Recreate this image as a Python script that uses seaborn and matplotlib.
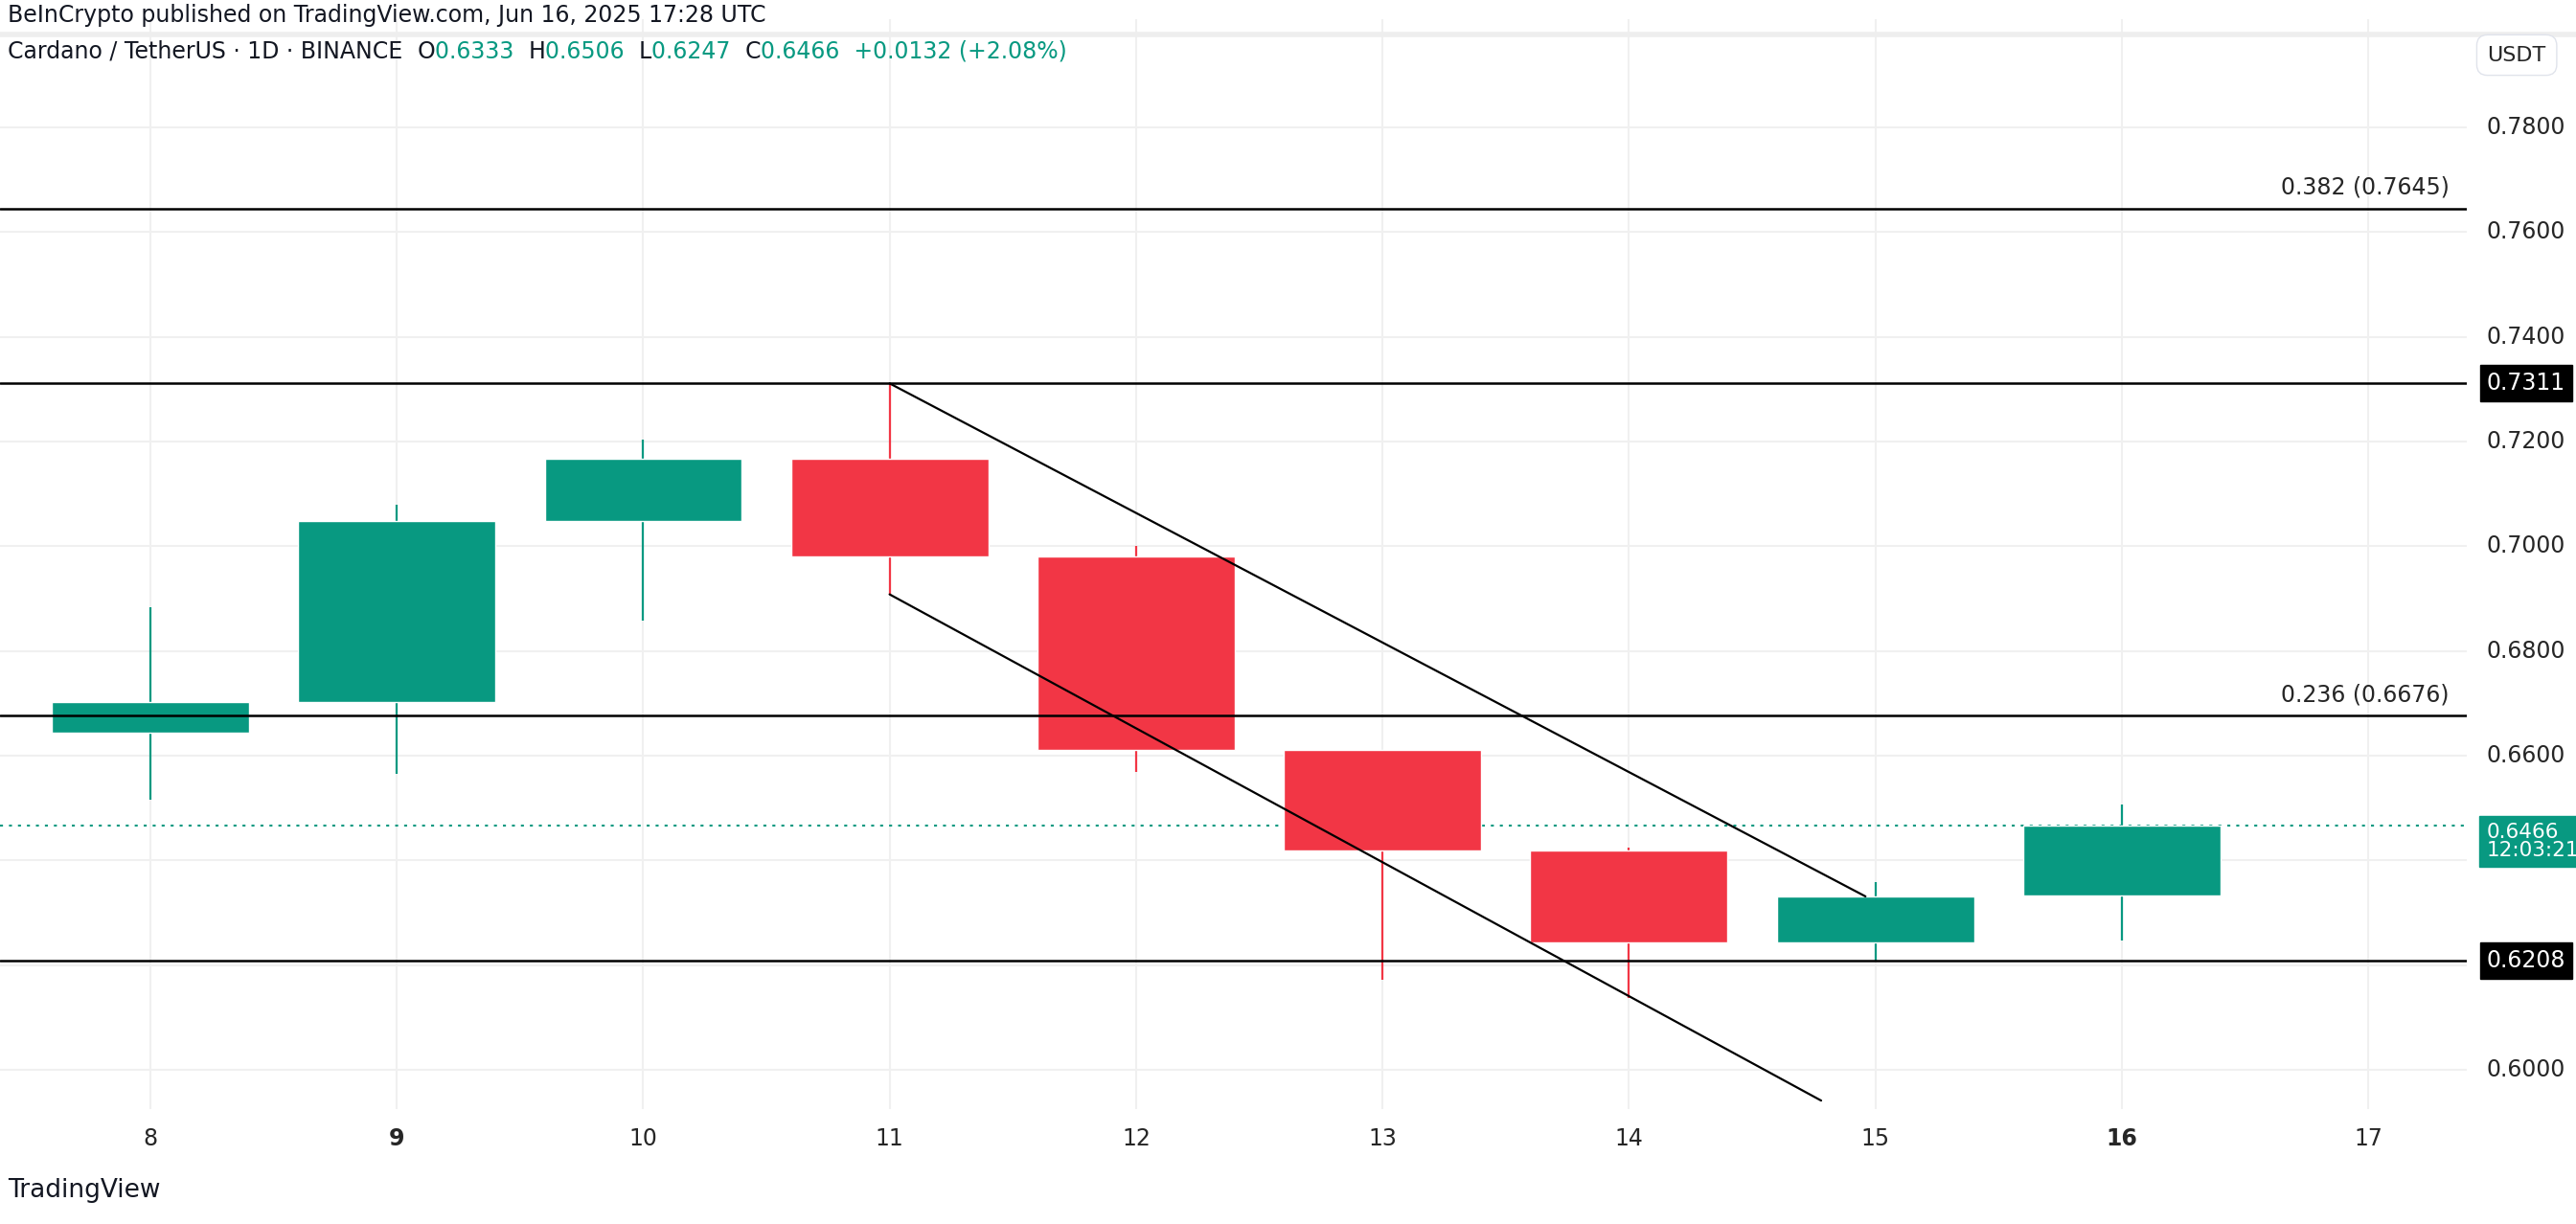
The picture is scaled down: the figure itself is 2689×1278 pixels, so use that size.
import matplotlib
matplotlib.use("Agg")
import matplotlib.pyplot as plt
import seaborn as sns
import pandas as pd

# daily candles ADA/USDT
days = [8, 9, 10, 11, 12, 13, 14, 15, 16]
opens = [0.6643, 0.6702, 0.7048, 0.7167, 0.6980, 0.6611, 0.6418, 0.6243, 0.6333]
highs = [0.6883, 0.7079, 0.7204, 0.7311, 0.7001, 0.6611, 0.6424, 0.6359, 0.6506]
lows = [0.6515, 0.6565, 0.6858, 0.6908, 0.6568, 0.6172, 0.6137, 0.6209, 0.6247]
closes = [0.6702, 0.7048, 0.7167, 0.6980, 0.6611, 0.6418, 0.6243, 0.6331, 0.6466]

fib_levels = [0.7645, 0.6676]
fib_labels = ["0.382 (0.7645)", "0.236 (0.6676)"]
hlines = [0.7311, 0.6208]
upper_line = ([11, 14.96], [0.7311, 0.6331])
lower_line = ([11, 14.78], [0.6908, 0.5941])
yticks = [0.60, 0.62, 0.64, 0.66, 0.68, 0.70, 0.72, 0.74, 0.76, 0.78]
xticks = [8, 9, 10, 11, 12, 13, 14, 15, 16, 17]
last_price = 0.6466

GREEN = "#089981"
RED = "#f23645"

df = pd.DataFrame({"day": days, "open": opens, "high": highs, "low": lows, "close": closes})
df["color"] = [GREEN if c >= o else RED for o, c in zip(df.open, df.close)]

sns.set_style("white")
plt.rcParams["font.family"] = "DejaVu Sans"
fig = plt.figure(figsize=(26.89, 12.78), dpi=100)
ax = fig.add_axes([0, 0.094, 0.9576, 0.89])

for y in yticks:
    ax.axhline(y, color="#f0f0f0", lw=1.5, zorder=0)
for x in xticks:
    ax.axvline(x, color="#f0f0f0", lw=1.5, zorder=0)

ax.vlines(df.day, df.low, df.high, colors=df.color, lw=1.6, zorder=2)
ax.bar(df.day, (df.close - df.open).abs(), bottom=df[["open", "close"]].min(axis=1),
       width=0.8, color=df.color, zorder=3)

for lvl, lab in zip(fib_levels, fib_labels):
    ax.axhline(lvl, color="black", lw=1.8, zorder=4)
    ax.text(17.33, lvl + 0.0018, lab, ha="right", va="bottom", fontsize=17)
for lvl in hlines:
    ax.axhline(lvl, color="black", lw=1.8, zorder=4)

sns.lineplot(x=upper_line[0], y=upper_line[1], color="black", lw=1.6, ax=ax, zorder=4)
sns.lineplot(x=lower_line[0], y=lower_line[1], color="black", lw=1.6, ax=ax, zorder=4)
ax.axhline(last_price, color=GREEN, lw=1.5, ls=(0, (1.5, 3)), zorder=1)

ax.set_xlim(7.39, 17.4)
ax.set_ylim(0.5925, 0.8006)
for s in ax.spines.values():
    s.set_visible(False)
ax.set_yticks([])
ax.set_xticks(xticks)
ax.set_xticklabels([str(x) for x in xticks], fontsize=17)
for t in ax.get_xticklabels():
    if t.get_text() in ("9", "16"):
        t.set_fontweight("bold")
ax.tick_params(axis="x", length=0, pad=14)

# right price scale
tr = ax.get_yaxis_transform()
XL = 1.008
for y in yticks:
    if abs(y - 0.64) < 1e-6 or abs(y - 0.62) < 1e-6:
        continue
    ax.text(XL, y, f"{y:.4f}", transform=tr, ha="left", va="center", fontsize=17, clip_on=False)
for lvl in hlines:
    ax.text(XL, lvl, f"{lvl:.4f}", transform=tr, ha="left", va="center", fontsize=17,
            color="white", clip_on=False,
            bbox=dict(boxstyle="square,pad=0.3", fc="black", ec="black"))
ax.text(XL, last_price - 0.0030, f"{last_price:.4f}\n12:03:21", transform=tr, ha="left",
        va="center", fontsize=15.5, color="white", linespacing=0.9, clip_on=False,
        bbox=dict(boxstyle="square,pad=0.35", fc=GREEN, ec=GREEN))

# header
fig.add_artist(plt.Line2D([0, 1], [0.972, 0.972], color="#eeeeee", lw=4))
fig.text(0.003, 0.978, "BeInCrypto published on TradingView.com, Jun 16, 2025 17:28 UTC", fontsize=17,
         va="bottom", color="#131722")
x0 = 0.003
parts = [("Cardano / TetherUS · 1D · BINANCE  ", "#131722"), ("O", "#131722"), ("0.6333  ", GREEN),
         ("H", "#131722"), ("0.6506  ", GREEN), ("L", "#131722"), ("0.6247  ", GREEN),
         ("C", "#131722"), ("0.6466  +0.0132 (+2.08%)", GREEN)]
r = fig.canvas.get_renderer()
for txt, col in parts:
    t = fig.text(x0, 0.958, txt, fontsize=17, color=col, va="center")
    x0 += t.get_window_extent(r).width / fig.bbox.width
fig.text(0.977, 0.955, "USDT", fontsize=16, ha="center", va="center",
         bbox=dict(boxstyle="round,pad=0.5", fc="white", ec="#e0e3eb"))
fig.text(0.003, 0.027, "TradingView", fontsize=19, va="center", color="#131722")

fig.savefig("out.png", dpi=100, facecolor="white")
